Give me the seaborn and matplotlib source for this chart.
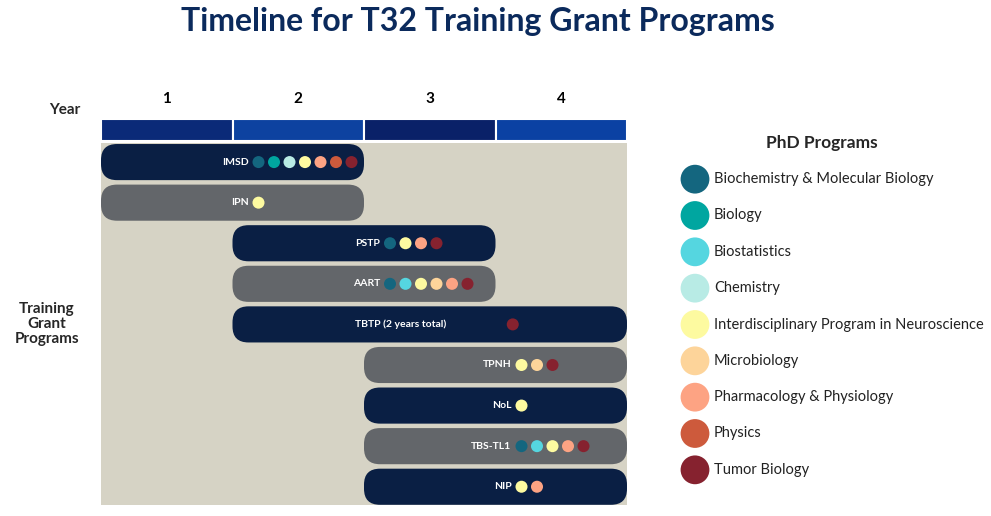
import matplotlib.pyplot as plt
import numpy as np
import pandas as pd
import seaborn as sns
from matplotlib.patches import FancyBboxPatch

sns.set_theme(style="white")
plt.rcParams["font.family"] = "Lato"

# Data
programs = ["IMSD", "IPN", "PSTP", "AART", "TBTP (2 years total)",
            "TPNH", "NoL", "TBS-TL1", "NIP"]
start_year = [0, 0, 1, 1, 1, 2, 2, 2, 2]
end_year = [2, 2, 3, 3, 4, 4, 4, 4, 4]
phd_programs = ["Biochemistry & Molecular Biology", "Biology", "Biostatistics",
                "Chemistry", "Interdisciplinary Program in Neuroscience",
                "Microbiology", "Pharmacology & Physiology", "Physics",
                "Tumor Biology"]
phd_colors = ["#14667f", "#00a6a0", "#55d6e0", "#b8ebe5", "#fdfaa0",
              "#fdd49a", "#fda383", "#cd5a3c", "#86222f"]
members = {
    "IMSD": [0, 1, 3, 4, 6, 7, 8],
    "IPN": [4],
    "PSTP": [0, 4, 6, 8],
    "AART": [0, 2, 4, 5, 6, 8],
    "TBTP (2 years total)": [8],
    "TPNH": [4, 5, 8],
    "NoL": [4],
    "TBS-TL1": [0, 2, 4, 6, 8],
    "NIP": [4, 6],
}
years = ["1", "2", "3", "4"]

NAVY = "#0a1f44"
GRAY = "#63666a"
BEIGE = "#d6d3c5"

fig = plt.figure(figsize=(9.91, 5.16), dpi=100)
W, H = 991, 516


def px_axes(x0, y0, x1, y1):
    return fig.add_axes([x0 / W, 1 - y1 / H, (x1 - x0) / W, (y1 - y0) / H])


fig.text(478 / W, 1 - 22 / H, "Timeline for T32 Training Grant Programs",
         ha="center", va="center", fontsize=23, fontweight="bold", color="#0b2a5c")

# Year header
hax = px_axes(101, 119, 627, 141)
hax.barh([0] * 4, [1] * 4, left=np.arange(4), height=1,
         color=["#0b2a78", "#0d42a0", "#0a2168", "#0b41a3"],
         edgecolor="white", linewidth=1.5)
hax.set_xlim(0, 4)
hax.set_ylim(-0.5, 0.5)
hax.axis("off")
for i, y in enumerate(years):
    hax.text(i + 0.5, 1.4, y, ha="center", va="center", fontsize=11,
             fontweight="bold", color="black")
fig.text(65 / W, 1 - 110 / H, "Year", ha="center", va="center",
         fontsize=11, fontweight="bold")
fig.text(47 / W, 1 - 324 / H, "Training\nGrant\nPrograms", ha="center",
         va="center", fontsize=11, fontweight="bold", linespacing=1.1)

# Timeline
ax = px_axes(101, 143, 627, 505)
ax.set_facecolor(BEIGE)
ax.set_xlim(0, 4)
ax.set_ylim(8.45, -0.47)
for s in ax.spines.values():
    s.set_visible(False)
ax.set_xticks([])
ax.set_yticks([])

px_x = 526 / 4
px_y = 362 / 8.92
bar_h = 0.89
rnd = 16 / px_x
dot_rows = []
for i, (name, s, e) in enumerate(zip(programs, start_year, end_year)):
    color = NAVY if i % 2 == 0 else GRAY
    box = FancyBboxPatch((s + rnd, i - bar_h / 2 + rnd * px_x / px_y),
                         e - s - 2 * rnd, bar_h - 2 * rnd * px_x / px_y,
                         boxstyle=f"round,pad={rnd},rounding_size={rnd}",
                         mutation_aspect=px_x / px_y, facecolor=color,
                         edgecolor="none")
    ax.add_patch(box)
    center = (s + e) / 2
    ax.text(center + 16 / px_x, i, name, ha="right", va="center",
            fontsize=7.5, fontweight="bold", color="white")
    first = center + (83 if name.startswith("TBTP") else 26) / px_x
    for k, m in enumerate(members[name]):
        dot_rows.append({"x": first + k * 15.5 / px_x, "y": i,
                         "program": phd_programs[m]})

dots = pd.DataFrame(dot_rows)
sns.scatterplot(data=dots, x="x", y="y", hue="program",
                palette=dict(zip(phd_programs, phd_colors)), s=75,
                linewidth=0, legend=False, ax=ax)
ax.set_xlabel("")
ax.set_ylabel("")

# Legend
lax = px_axes(670, 161, 991, 488)
lax.set_xlim(0, 321)
lax.set_ylim(8.5, -0.5)
lax.axis("off")
sns.scatterplot(x=[25] * len(phd_programs), y=np.arange(len(phd_programs)),
                hue=phd_programs, palette=phd_colors, s=430, linewidth=0,
                legend=False, ax=lax)
for i, p in enumerate(phd_programs):
    lax.text(44, i, p, va="center", ha="left", fontsize=10.5, color="#222222")
fig.text(822 / W, 1 - 143 / H, "PhD Programs", ha="center", va="center",
         fontsize=12.5, fontweight="bold")

fig.savefig("out.png", dpi=100)
